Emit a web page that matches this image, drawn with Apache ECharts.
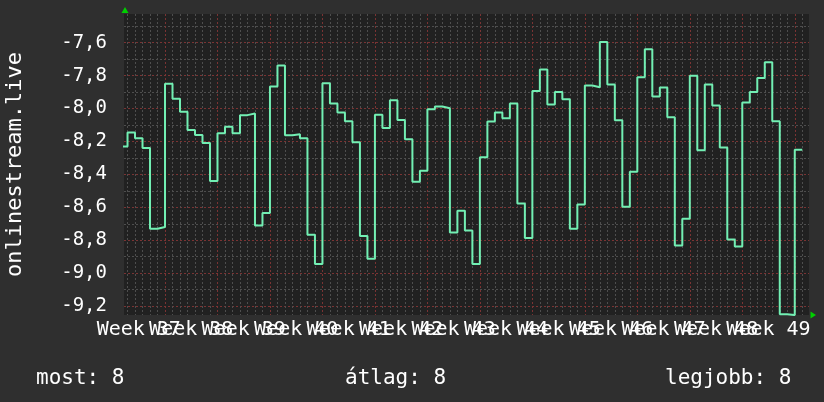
<!DOCTYPE html>
<html>
<head>
<meta charset="utf-8">
<script src="https://cdn.jsdelivr.net/npm/echarts@6/dist/echarts.min.js"></script>
<style>
html,body{margin:0;padding:0;background:#2f2f2f;}
#c{width:824px;height:402px;}
</style>
</head>
<body>
<div id="c"></div>
<script>
// ---- data ----
const firstDay = -6; // day offset (relative to the first red week gridline) of the first value
const dailyValues = [
  -8.23,
  -8.146, -8.18, -8.24, -8.73, -8.72,
  -7.85, -7.94, -8.02, -8.13, -8.16, -8.21, -8.44,
  -8.15, -8.11, -8.15, -8.04, -8.03, -8.71, -8.635,
  -7.866, -7.738, -8.162, -8.156, -8.18, -8.767, -8.944,
  -7.846, -7.97, -8.024, -8.077, -8.205, -8.774, -8.912,
  -8.037, -8.118, -7.95, -8.07, -8.187, -8.445, -8.378,
  -8.004, -7.988, -7.998, -8.753, -8.621, -8.741, -8.944,
  -8.296, -8.079, -8.024, -8.059, -7.97, -8.577, -8.786,
  -7.894, -7.762, -7.976, -7.90, -7.943, -8.731, -8.583,
  -7.86, -7.87, -7.596, -7.854, -8.071, -8.597, -8.384,
  -7.81, -7.64, -7.927, -7.872, -8.053, -8.832, -8.67,
  -7.80, -8.254, -7.854, -7.982, -8.236, -8.796, -8.839,
  -7.963, -7.90, -7.815, -7.718, -8.077, -9.25, -9.255,
  -8.25
];
const weekLabels = ['Week 37','Week 38','Week 39','Week 40','Week 41','Week 42','Week 43',
                    'Week 44','Week 45','Week 46','Week 47','Week 48','Week 49'];
const yTickValues = [-9.2, -9.0, -8.8, -8.6, -8.4, -8.2, -8.0, -7.8, -7.6];
const yTitle = 'onlinestream.live';
const summaryNames = ['most', 'átlag', 'legjobb'];
const summaryValues = ['8', '8', '8'];

// ---- build ----
const seriesData = dailyValues.map((v, i) => [firstDay + i, v]);
seriesData.push([firstDay + dailyValues.length, dailyValues[dailyValues.length - 1]]);

const xMin = -5.47, xMax = 85.9;
const yMin = -9.2545, yMax = -7.4254;

const majorDays = [];
for (let d = 0; d <= xMax; d += 7) majorDays.push(d);
const minorDays = [];
for (let d = Math.ceil(xMin); d <= xMax; d++) if (d % 7 !== 0) minorDays.push(d);
const labelPos = weekLabels.map((_, i) => -3.5 + 7 * i);
const evenPos = labelPos.filter((_, i) => i % 2 === 0);
const oddPos = labelPos.filter((_, i) => i % 2 === 1);
const minorY = [];
for (let k = -93; k <= -75; k++) if (k % 2 !== 0) minorY.push(k / 10);

const FONT = '"DejaVu Sans Mono", monospace';
const minorLine = { show: true, lineStyle: { color: '#4e4e4e', type: [2, 2], width: 1 } };
const majorLine = { show: true, lineStyle: { color: '#7a3333', type: [2, 2], width: 1 } };
const weekFmt = v => weekLabels[Math.round((v + 3.5) / 7)];
const labelAxis = (vals) => ({
  type: 'value', position: 'bottom', min: xMin, max: xMax, axisLine: { show: false },
  axisTick: { show: false, customValues: majorDays }, splitLine: { show: false },
  axisLabel: { show: true, customValues: vals, margin: 5, hideOverlap: false,
    showMinLabel: true, showMaxLabel: true,
    color: '#ffffff', fontFamily: FONT, fontSize: 20, formatter: weekFmt }
});

const chart = echarts.init(document.getElementById('c'));
chart.setOption({
  backgroundColor: '#2f2f2f',
  animation: false,
  grid: { left: 124, right: 15, top: 14, bottom: 87, show: true, backgroundColor: '#212121',
          borderWidth: 0, containLabel: false, outerBoundsMode: 'none' },
  xAxis: [
    { type: 'value', position: 'bottom', min: xMin, max: xMax, axisLine: { show: false },
      axisTick: { show: false, customValues: minorDays }, axisLabel: { show: false }, splitLine: minorLine },
    { type: 'value', position: 'bottom', min: xMin, max: xMax, axisLine: { show: false },
      axisTick: { show: false, customValues: majorDays }, axisLabel: { show: false }, splitLine: majorLine },
    labelAxis(evenPos),
    labelAxis(oddPos)
  ],
  yAxis: [
    { type: 'value', position: 'left', min: yMin, max: yMax, axisLine: { show: false },
      axisTick: { show: false, customValues: minorY }, axisLabel: { show: false }, splitLine: minorLine },
    { type: 'value', position: 'left', min: yMin, max: yMax, axisLine: { show: false },
      axisTick: { show: false, customValues: yTickValues }, splitLine: majorLine,
      axisLabel: { show: true, customValues: yTickValues, margin: 17, color: '#ffffff',
        showMinLabel: true, showMaxLabel: true,
        fontFamily: FONT, fontSize: 19, formatter: v => v.toFixed(1).replace('.', ',') },
      name: yTitle, nameLocation: 'middle', nameRotate: 90, nameGap: 98,
      nameTextStyle: { color: '#ffffff', fontFamily: FONT, fontSize: 22 } }
  ],
  title: summaryNames.map((n, i) => ({
    text: n + ': ' + summaryValues[i],
    left: [31, 340, 660][i], top: 363,
    textStyle: { color: '#ffffff', fontFamily: FONT, fontSize: 21, fontWeight: 'normal' }
  })),
  graphic: [
    { type: 'polygon', shape: { points: [[125, 7], [121.5, 13], [128.5, 13]] }, style: { fill: '#00d000' } },
    { type: 'polygon', shape: { points: [[816, 315], [810.5, 311.5], [810.5, 318.5]] }, style: { fill: '#00d000' } }
  ],
  series: [{
    type: 'line', xAxisIndex: 1, yAxisIndex: 1, step: 'end', showSymbol: false,
    data: seriesData,
    lineStyle: { color: '#72efb3', width: 2 }
  }]
});
</script>
</body>
</html>
